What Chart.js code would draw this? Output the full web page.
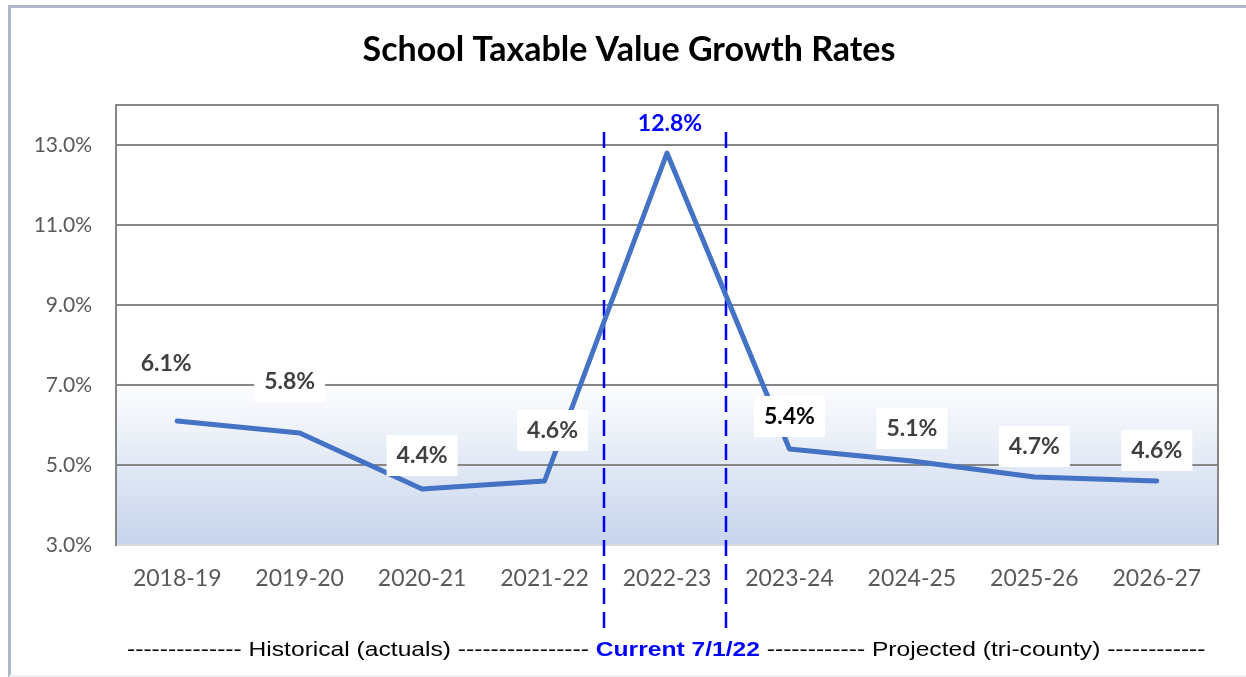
<!DOCTYPE html>
<html lang="en">
<head>
    <meta charset="UTF-8">
    <title>School Taxable Value Growth Rates</title>
    <script src="https://cdn.jsdelivr.net/npm/chart.js"></script>
    <style>
        html, body { margin: 0; padding: 0; background: #fff; }
        #wrap { position: relative; width: 1246px; height: 677px; }
    </style>
</head>
<body>
    <div id="wrap"><canvas id="growthChart"></canvas></div>

    <script>
        // data
        const seasons = ['2018-19', '2019-20', '2020-21', '2021-22', '2022-23', '2023-24', '2024-25', '2025-26', '2026-27'];
        const growthRates = [6.1, 5.8, 4.4, 4.6, 12.8, 5.4, 5.1, 4.7, 4.6];
        const yTickValues = [3, 5, 7, 9, 11, 13];
        const footerParts = [
            { text: '--------------', bold: false, color: '#000' },
            { text: 'Historical (actuals)', bold: false, color: '#000' },
            { text: '----------------', bold: false, color: '#000' },
            { text: 'Current 7/1/22', bold: true, color: '#0000ff' },
            { text: '------------', bold: false, color: '#000' },
            { text: 'Projected (tri-county)', bold: false, color: '#000' },
            { text: '------------', bold: false, color: '#000' }
        ];

        // label placement relative to each point (px)
        const labelOffsets = [[-11, -58], [-10, -52], [0, -34], [8, -51], [3, -30], [0, -33], [0, -33], [0, -31], [0, -31]];
        const labelColors = ['#404040', '#404040', '#404040', '#404040', '#0000ff', '#000000', '#404040', '#404040', '#404040'];
        const labelBoxes = [true, true, true, true, false, true, true, true, true];

        const GRID = '#868686';

        const decorPlugin = {
            id: 'decor',
            beforeDraw(chart) {
                const ctx = chart.ctx;
                const a = chart.chartArea;
                const y = chart.scales.y;
                ctx.save();
                ctx.fillStyle = '#fff';
                ctx.fillRect(0, 0, chart.width, chart.height);
                // outer frame
                ctx.strokeStyle = '#adb9ca';
                ctx.lineWidth = 3;
                ctx.beginPath();
                ctx.moveTo(9.5, 677);
                ctx.lineTo(9.5, 6.5);
                ctx.lineTo(1246, 6.5);
                ctx.stroke();
                ctx.strokeStyle = '#eef0f4';
                ctx.lineWidth = 2;
                ctx.beginPath();
                ctx.moveTo(9.5, 676);
                ctx.lineTo(1246, 676);
                ctx.stroke();
                // plot gradient
                const gTop = y.getPixelForValue(7.2);
                const grad = ctx.createLinearGradient(0, gTop, 0, a.bottom);
                grad.addColorStop(0, '#ffffff');
                grad.addColorStop(1, '#c7d4ec');
                ctx.fillStyle = grad;
                ctx.fillRect(a.left, gTop, a.right - a.left, a.bottom - gTop);
                // title
                ctx.fillStyle = '#000';
                ctx.font = 'bold 34px Lato';
                ctx.textAlign = 'center';
                ctx.textBaseline = 'middle';
                ctx.fillText('School Taxable Value Growth Rates', 629, 50);
                // footer line
                let x = 127;
                ctx.textAlign = 'left';
                ctx.textBaseline = 'alphabetic';
                footerParts.forEach(p => {
                    ctx.font = (p.bold ? 'bold ' : '') + '23px "Liberation Sans"';
                    ctx.fillStyle = p.color;
                    ctx.save();
                    ctx.translate(x, 656);
                    ctx.scale(1.07, 0.86);
                    ctx.fillText(p.text, 0, 0);
                    ctx.restore();
                    x += ctx.measureText(p.text + ' ').width * 1.07;
                });
                ctx.restore();
            },
            beforeDatasetsDraw(chart) {
                const ctx = chart.ctx;
                const a = chart.chartArea;
                const xs = chart.scales.x;
                ctx.save();
                // right border of plot
                ctx.strokeStyle = GRID;
                ctx.lineWidth = 2;
                ctx.beginPath();
                ctx.moveTo(a.right, a.top - 1);
                ctx.lineTo(a.right, a.bottom);
                ctx.stroke();
                // "current year" dashed markers
                ctx.strokeStyle = '#0000ff';
                ctx.lineWidth = 2.5;
                ctx.setLineDash([16, 8]);
                [3.5, 4.5].forEach(i => {
                    const px = Math.round(xs.getPixelForValue(i)) - 2;
                    ctx.beginPath();
                    ctx.moveTo(px, 132);
                    ctx.lineTo(px, 628);
                    ctx.stroke();
                });
                ctx.restore();
            },
            afterDatasetsDraw(chart) {
                const ctx = chart.ctx;
                const pts = chart.getDatasetMeta(0).data;
                ctx.save();
                ctx.font = 'bold 23px Lato';
                ctx.textAlign = 'center';
                ctx.textBaseline = 'middle';
                pts.forEach((pt, i) => {
                    const txt = growthRates[i].toFixed(1) + '%';
                    const cx = pt.x + labelOffsets[i][0];
                    const cy = pt.y + labelOffsets[i][1];
                    if (labelBoxes[i]) {
                        const w = ctx.measureText(txt).width + 20;
                        ctx.fillStyle = '#fff';
                        ctx.fillRect(cx - w / 2, cy - 20, w, 41);
                    }
                    ctx.fillStyle = labelColors[i];
                    ctx.fillText(txt, cx, cy + 1);
                });
                ctx.restore();
            }
        };

        const ctx = document.getElementById('growthChart').getContext('2d');

        new Chart(ctx, {
            type: 'line',
            data: {
                labels: seasons,
                datasets: [{
                    label: 'Growth rate',
                    data: growthRates,
                    borderColor: '#4472c4',
                    borderWidth: 5,
                    borderJoinStyle: 'round',
                    borderCapStyle: 'round',
                    pointRadius: 0,
                    tension: 0,
                    fill: false
                }]
            },
            options: {
                responsive: true,
                maintainAspectRatio: false,
                animation: false,
                layout: { padding: { top: 105, left: 0, right: 28, bottom: 72 } },
                plugins: {
                    legend: { display: false },
                    tooltip: { enabled: false }
                },
                scales: {
                    x: {
                        offset: true,
                        grid: { display: false, drawTicks: false },
                        border: { display: false },
                        ticks: {
                            color: '#595959',
                            font: { family: 'Lato', size: 23 },
                            padding: 20,
                            maxRotation: 0
                        },
                        afterFit(scale) { scale.height = 60; }
                    },
                    y: {
                        min: 3,
                        max: 14,
                        afterBuildTicks(scale) {
                            scale.ticks = yTickValues.concat([14]).map(v => ({ value: v }));
                        },
                        grid: {
                            drawTicks: false,
                            lineWidth: 2,
                            color: c => (c.tick && c.tick.value === 3) ? '#d9d9d9' : GRID
                        },
                        border: { display: true, color: GRID, width: 2 },
                        ticks: {
                            color: '#595959',
                            font: { family: 'Lato', size: 21 },
                            padding: 24,
                            callback: v => v === 14 ? '' : v.toFixed(1) + '%'
                        },
                        afterFit(scale) { scale.width = 116; }
                    }
                }
            },
            plugins: [decorPlugin]
        });
    </script>
</body>
</html>
